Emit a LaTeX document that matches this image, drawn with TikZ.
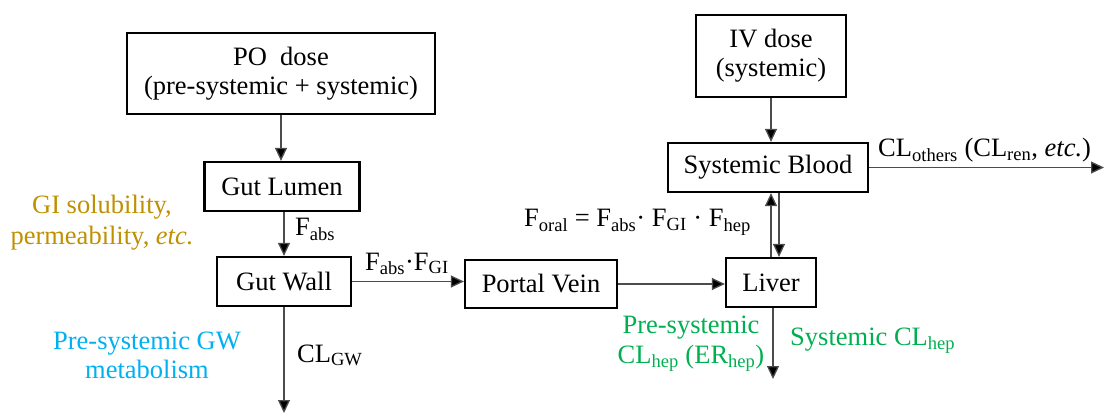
\documentclass[tikz,border=0pt]{standalone}
\usepackage{fontspec}
\setmainfont{Liberation Serif}
\usepackage{xcolor}
\usepackage{tikz}
\usetikzlibrary{arrows.meta,calc,positioning}
\definecolor{gigold}{HTML}{BF9000}
\definecolor{gwblue}{HTML}{00B0F0}
\definecolor{hepgreen}{HTML}{00B050}
\tikzset{%
	compartment/.style = {draw, rectangle, line width=2.2pt, inner sep=0pt, align=center, text centered},
	arrow/.style       = {line width=1.3pt, draw=black!70, -{Triangle[length=13pt,width=12pt,fill=black]}},
	flowlabel/.style   = {inner sep=0pt, anchor=base west},
	notelabel/.style   = {inner sep=0pt, anchor=base, align=center},
}
\newcommand{\sub}[1]{\textsubscript{#1}}

\begin{document}
\begin{tikzpicture}[x=1pt,y=-1pt,font=\fontsize{26.5}{30}\selectfont]
		\useasboundingbox (0,0) rectangle (1106,414);
		
		% oral route
		\node[compartment, minimum width=308pt, minimum height=81pt] (po) at (281,73.5) {PO\ \ dose\\[-1pt](pre-systemic + systemic)};
		\node[compartment, minimum width=155pt, minimum height=49pt] (lumen) at (282,186.5) {Gut Lumen};
		\node[compartment, minimum width=134pt, minimum height=49pt] (wall) at (284,281.5) {Gut Wall};
		\node[compartment, minimum width=152pt, minimum height=48pt] (portal) at (541,284) {Portal Vein};
		\node[compartment, minimum width=90pt, minimum height=49pt] (liver) at (771,282.5) {Liver};
		
		% iv route
		\node[compartment, minimum width=150pt, minimum height=82pt] (iv) at (771,56) {IV dose\\[-1pt](systemic)};
		\node[compartment, minimum width=200pt, minimum height=49pt] (blood) at (768,167.5) {Systemic Blood};
		
		\coordinate (clgw) at (284,413);
		\coordinate (clhep) at (773,379);
		\coordinate (clother) at (1104,167.5);
		
		\draw[arrow] (po.south) -- (po.south |- lumen.north);
		\draw[arrow] (lumen.south -| wall.north) -- (wall.north);
		\draw[arrow] (wall.east) -- (wall.east -| portal.west);
		\draw[arrow] (portal.east) -- (portal.east -| liver.west);
		\draw[arrow] (wall.south) -- (clgw);
		\draw[arrow] (iv.south) -- (iv.south |- blood.north);
		\draw[arrow] (liver.north) -- (liver.north |- blood.south);
		\draw[arrow] ($(liver.north |- blood.south)+(8,0)$) -- ($(liver.north)+(8,0)$);
		\draw[arrow] (liver.south -| clhep) -- (clhep);
		\draw[arrow] (blood.east) -- (clother);
		
		% flow labels
		\node[flowlabel] (fabs) at (295,236) {F\sub{abs}};
		\node[flowlabel] (fgi) at (365,270) {F\sub{abs}·F\sub{GI}};
		\node[flowlabel] (clgwlab) at (297,362) {CL\sub{GW}};
		\node[flowlabel, anchor=base east] (foral) at (751,227) {F\sub{oral} = F\sub{abs}· F\sub{GI} · F\sub{hep}};
		\node[flowlabel] (cloth) at (878,157) {CL\sub{others} (CL\sub{ren}, \textit{etc.})};
		
		% notes (base = last line)
		\node[notelabel, text=gigold] (solub) at (102,245) {GI solubility,\\[2pt]permeability, \textit{etc.}};
		\node[notelabel, text=gwblue] (gwmet) at (147,378) {Pre-systemic GW\\[-1pt]metabolism};
		\node[notelabel, text=hepgreen] (prehep) at (691,363) {Pre-systemic\\[0pt]CL\sub{hep} (ER\sub{hep})};
		\node[flowlabel, text=hepgreen] (syshep) at (790,345) {Systemic CL\sub{hep}};
		\end{tikzpicture}
\end{document}
